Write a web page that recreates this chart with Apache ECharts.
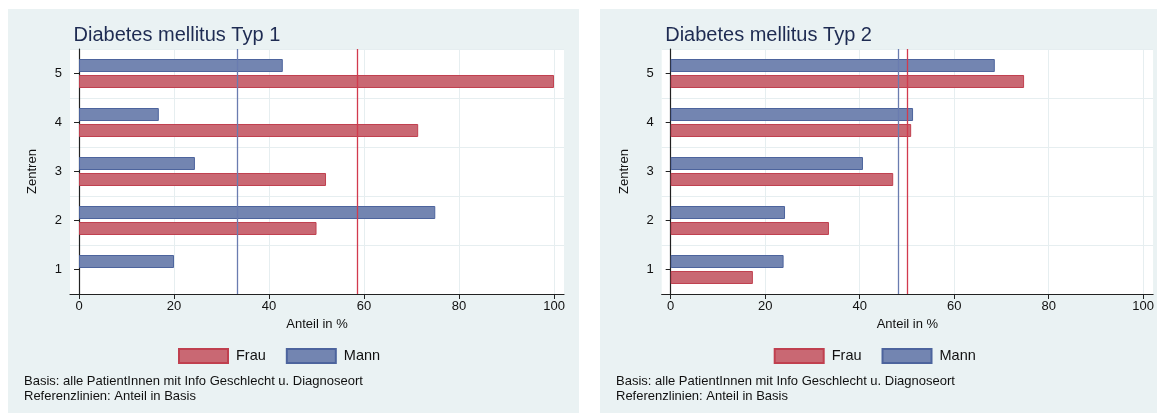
<!DOCTYPE html>
<html><head><meta charset="utf-8">
<script src="https://cdn.jsdelivr.net/npm/echarts@6/dist/echarts.min.js"></script>
<style>html,body{margin:0;padding:0;background:#fff}#c{width:1157px;height:414px}</style>
</head><body><div id="c"></div>
<script>
const categories = ['1','2','3','4','5'];
const titles = ['Diabetes mellitus Typ 1','Diabetes mellitus Typ 2'];
const frau1 = [0, 50.0, 52.0, 71.4, 100];
const mann1 = [20.0, 75.0, 24.4, 16.8, 42.9];
const frau2 = [17.4, 33.5, 47.1, 50.9, 74.8];
const mann2 = [23.9, 24.2, 40.7, 51.3, 68.6];
const refFrau = [58.5, 50.1];
const refMann = [33.3, 48.1];
const xTicks = [0, 20, 40, 60, 80, 100];
const seriesNames = ['Frau','Mann'];
const xTitle = 'Anteil in %';
const yTitle = 'Zentren';
const notes = ['Basis: alle PatientInnen mit Info Geschlecht u. Diagnoseort','Referenzlinien: Anteil in Basis'];

const FONT = '"Liberation Sans", Arial, sans-serif';
const BG = '#eaf2f3';
const GRIDC = '#e6eef0';
const RED = '#c96873', RED_B = '#c0404f', RED_L = '#d23a4e';
const BLUE = '#7385b1', BLUE_B = '#4d649d', BLUE_L = '#6a7cb0';

const panels = [
  {x: 8, w: 571, gl: 70, title: titles[0], frau: frau1, mann: mann1, legX: 178, noteX: 24},
  {x: 600, w: 557, gl: 661.7, title: titles[1], frau: frau2, mann: mann2, legX: 773.7, noteX: 616}
];

// zero-length bars are not drawn (no border sliver)
const toData = arr => arr.map(v => v === 0 ? {value: 0, itemStyle: {borderWidth: 0, opacity: 0}} : v);
const refLine = (v, c) => ({
  silent: true, symbol: ['none', 'none'], label: {show: false}, z: 5, emphasis: {disabled: true},
  lineStyle: {color: c, width: 1.3, type: 'solid', opacity: 1},
  data: [{xAxis: v, lineStyle: {color: c, width: 1.3, type: 'solid', opacity: 1}}]
});

const chart = echarts.init(document.getElementById('c'));
const grid = [], xAxis = [], yAxis = [], series = [], legend = [], graphic = [], title = [];
panels.forEach((p, i) => {
  graphic.push({type:'rect', z:-10, shape:{x:p.x, y:9, width:p.w, height:404}, style:{fill:BG}});
  notes.forEach((t, k) => graphic.push({type:'text', z:10, left:p.noteX, top:375 + k*15,
    style:{text:t, fill:'#111', font:'13px ' + FONT}}));
  title.push({text:p.title, left:p.gl - 1.5, top:20.5,
    textStyle:{color:'#1e2b52', fontSize:20, fontWeight:'normal', fontFamily:FONT}});
  grid.push({left:p.gl, top:49, width:494, height:245, show:true, backgroundColor:'#fff', borderWidth:0});
  xAxis.push({type:'value', gridIndex:i, min:-1.9, max:102.1,
    name:xTitle, nameLocation:'middle', nameGap:24,
    nameTextStyle:{color:'#111', fontSize:13, fontFamily:FONT},
    axisLine:{show:true, lineStyle:{color:'#222', width:1.2}},
    axisTick:{show:true, length:5, customValues:xTicks, lineStyle:{color:'#222'}},
    axisLabel:{customValues:xTicks, color:'#111', fontSize:13, fontFamily:FONT, margin:6},
    splitLine:{show:true, lineStyle:{color:GRIDC, width:1}}});
  yAxis.push({type:'category', gridIndex:i, data:categories,
    name:yTitle, nameLocation:'middle', nameGap:31, nameRotate:90,
    nameTextStyle:{color:'#111', fontSize:13, fontFamily:FONT},
    axisLine:{show:true, lineStyle:{color:'#222', width:1.2}},
    axisTick:{show:true, alignWithLabel:true, length:5, lineStyle:{color:'#222'}},
    axisLabel:{color:'#111', fontSize:13, fontFamily:FONT, margin:8},
    splitLine:{show:true, lineStyle:{color:GRIDC, width:1}}});
  series.push({type:'bar', name:seriesNames[1], xAxisIndex:i, yAxisIndex:i, data:toData(p.mann),
    barWidth:13, barGap:'23%',
    itemStyle:{color:BLUE, borderColor:BLUE_B, borderWidth:1},
    markLine: refLine(refMann[i], BLUE_L)});
  series.push({type:'bar', name:seriesNames[0], xAxisIndex:i, yAxisIndex:i, data:toData(p.frau),
    barWidth:13, barGap:'23%',
    itemStyle:{color:RED, borderColor:RED_B, borderWidth:1},
    markLine: refLine(refFrau[i], RED_L)});
  legend.push({data:seriesNames, left:p.legX - 5, top:343, itemWidth:49, itemHeight:14, itemGap:20,
    icon:'rect', selectedMode:false,
    textStyle:{color:'#111', fontSize:14.5, fontFamily:FONT, padding:[0,0,0,3]}});
});

chart.setOption({animation:false, backgroundColor:'#fff', title, grid, xAxis, yAxis, series, legend, graphic});
</script></body></html>
